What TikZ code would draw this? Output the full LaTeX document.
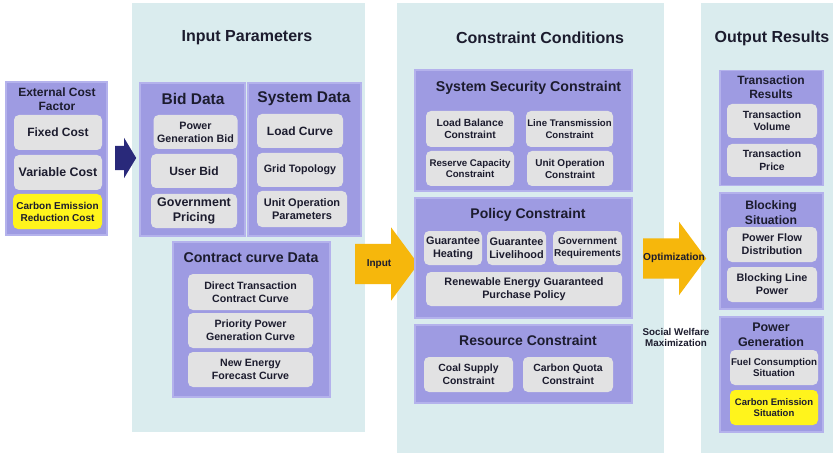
\documentclass[tikz,border=0pt]{standalone}
\usepackage{fontspec}
\setmainfont{Liberation Sans}
\usetikzlibrary{shapes.arrows}

\definecolor{panelbg}{HTML}{DAECEE}
\definecolor{lilac}{HTML}{9E9BE2}
\definecolor{lilacrim}{HTML}{B4B2EC}
\definecolor{chipgray}{HTML}{E2E2E3}
\definecolor{marker}{HTML}{FFF41C}
\definecolor{amber}{HTML}{F6B70C}
\definecolor{navy}{HTML}{29297A}
\definecolor{ink}{HTML}{1C1C2E}

\begin{document}
\begin{tikzpicture}[x=1pt,y=-1pt,
  txt/.style={text=ink,align=center,inner sep=0pt,
    font=\linespread{1.2}\fontsize{#1}{#1}\selectfont\bfseries},
  panel/.style 2 args={fill=panelbg,minimum width=#1,minimum height=#2,inner sep=0pt},
  group/.style 2 args={fill=lilac,draw=lilacrim,line width=1.2pt,
    minimum width=#1,minimum height=#2,inner sep=0pt},
  chip/.style 2 args={fill=chipgray,rounded corners=5pt,
    minimum width=#1,minimum height=#2,inner sep=0pt},
  hichip/.style 2 args={chip={#1}{#2},fill=marker},
  bigarrow/.style={single arrow,fill=amber,anchor=tail,inner xsep=0pt,inner ysep=20pt,
    single arrow head extend=16.5pt,single arrow tip angle=107,minimum height=63pt},
]
  \fill[white] (0,0) rectangle (835,457);
  \useasboundingbox (0,0) rectangle (835,457);

  \node[panel={233}{429}] (pin) at (248.5,217.5) {};
  \node[panel={267}{450}] (pcon) at (530.5,228) {};
  \node[panel={132}{450}] (pout) at (767,228) {};
  \node[txt=16] (tin) at (247,38) {Input Parameters};
  \node[txt=16] (tcon) at (540,38) {Constraint Conditions};
  \node[txt=16] (tout) at (772,38) {Output Results};

  \node[group={101}{153}] (ext) at (56.5,158.5) {};
  \node[txt=12] (text) at (57,99) {External Cost\\Factor};
  \node[chip={88}{35},txt=12] (fixed) at (58,132.5) {Fixed Cost};
  \node[chip={88}{35},txt=12.4] (var) at (58,172.5) {Variable Cost};
  \node[hichip={89}{35},txt=10] (cerc) at (57.5,211.5) {Carbon Emission\\Reduction Cost};
  \node[single arrow,fill=navy,anchor=tail,inner xsep=0pt,inner ysep=12pt,
    single arrow head extend=8pt,single arrow tip angle=118,minimum height=21pt] (go) at (115,158) {};

  \node[group={105}{153}] (bid) at (192.5,159.5) {};
  \node[txt=15.5] (tbid) at (193,99) {Bid Data};
  \node[chip={84}{34},txt=10.7] (pgb) at (195.5,132) {Power\\Generation Bid};
  \node[chip={86}{34},txt=12] (ub) at (194,171) {User Bid};
  \node[chip={86}{34},txt=12.5] (gp) at (194,211) {Government\\Pricing};

  \node[group={113}{153}] (sys) at (304.5,159.5) {};
  \node[txt=15.5] (tsys) at (304,99) {System Data};
  \node[chip={86}{34},txt=12] (lc) at (300,131) {Load Curve};
  \node[chip={86}{34},txt=10.7] (gt) at (300,170) {Grid Topology};
  \node[chip={90}{36},txt=11] (uop) at (302,209) {Unit Operation\\Parameters};

  \node[group={157}{155}] (cc) at (251.5,319.5) {};
  \node[txt=14.2] (tcc) at (251,258) {Contract curve Data};
  \node[chip={125}{36},txt=10.6] (dtc) at (250.5,292) {Direct Transaction\\Contract Curve};
  \node[chip={125}{35},txt=10.6] (ppg) at (250.5,330.5) {Priority Power\\Generation Curve};
  \node[chip={125}{35},txt=10.6] (nef) at (250.5,369.5) {New Energy\\Forecast Curve};

  \node[bigarrow] (inarr) at (355,264) {};
  \node[txt=10] (tinarr) at (379,264) {Input};

  \node[group={217}{121}] (ssc) at (523.5,130.5) {};
  \node[txt=14.2] (tssc) at (528.5,88) {System Security Constraint};
  \node[chip={88}{36},txt=10.3] (lb) at (470,129) {Load Balance\\Constraint};
  \node[chip={87}{36},txt=9.6] (lt) at (569.5,129) {Line Transmission\\Constraint};
  \node[chip={88}{35},txt=9.7] (rc) at (470,168.5) {Reserve Capacity\\Constraint};
  \node[chip={86}{35},txt=10] (uoc) at (570,168.5) {Unit Operation\\Constraint};

  \node[group={217}{120}] (pol) at (523.5,258) {};
  \node[txt=14] (tpol) at (528,215) {Policy Constraint};
  \node[chip={58}{34},txt=10.9] (gh) at (453,248) {Guarantee\\Heating};
  \node[chip={59}{34},txt=10.9] (gl) at (516.5,248) {Guarantee\\Livelihood};
  \node[chip={69}{34},txt=10] (gr) at (587.5,248) {Government\\Requirements};
  \node[chip={196}{34},txt=10.8] (rep) at (524,289) {Renewable Energy Guaranteed\\Purchase Policy};

  \node[group={217}{78}] (res) at (523.5,364) {};
  \node[txt=14] (tres) at (528,340) {Resource Constraint};
  \node[chip={89}{35},txt=10.4] (cs) at (468.5,374.5) {Coal Supply\\Constraint};
  \node[chip={90}{35},txt=10.4] (cq) at (568,374.5) {Carbon Quota\\Constraint};

  \node[bigarrow] (optarr) at (643,258.5) {};
  \node[txt=10.2] (toptarr) at (674,258) {Optimization};
  \node[txt=9.8] (swm) at (676,337.5) {Social Welfare\\Maximization};

  \node[group={103}{115}] (tr) at (771.5,128) {};
  \node[txt=12] (ttr) at (771,87.5) {Transaction\\Results};
  \node[chip={90}{34},txt=10.4] (tv) at (772,121) {Transaction\\Volume};
  \node[chip={90}{33},txt=10.4] (tp) at (772,160.5) {Transaction\\Price};

  \node[group={103}{116}] (blk) at (771.5,251) {};
  \node[txt=12.2] (tblk) at (771,212.5) {Blocking\\Situation};
  \node[chip={90}{35},txt=10.8] (pfd) at (772,244.5) {Power Flow\\Distribution};
  \node[chip={90}{35},txt=10.8] (blp) at (772,284.5) {Blocking Line\\Power};

  \node[group={103}{115}] (pg) at (771.5,374.5) {};
  \node[txt=12.5] (tpg) at (771,334.5) {Power\\Generation};
  \node[chip={88}{35},txt=9.8] (fcs) at (774,367.5) {Fuel Consumption\\Situation};
  \node[hichip={88}{35},txt=9.5] (ces) at (774,407.5) {Carbon Emission\\Situation};
\end{tikzpicture}
\end{document}
